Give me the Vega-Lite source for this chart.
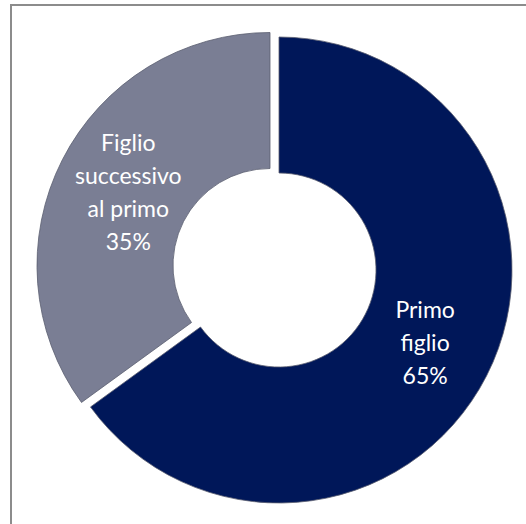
{
  "$schema": "https://vega.github.io/schema/vega-lite/v6.json",
  "width": 536,
  "height": 530,
  "autosize": {"type": "none"},
  "padding": {"left": 11, "top": 5, "right": 0, "bottom": 0},
  "background": "white",
  "config": {"view": {"stroke": null}},
  "data": {
    "values": [
      {"categoria": "Primo figlio", "quota": 65, "ordine": 1, "etichetta": "Primo\nfiglio\n65%"},
      {"categoria": "Figlio successivo al primo", "quota": 35, "ordine": 2, "etichetta": "Figlio\nsuccessivo\nal primo\n35%"}
    ]
  },
  "layer": [
    {
      "data": {"values": [{"cornice": 1}]},
      "mark": {"type": "rect", "fill": "transparent", "stroke": "#8c8c8c", "strokeWidth": 2},
      "encoding": {}
    },
    {
      "mark": {"type": "arc", "radius": 233, "radius2": 97, "stroke": "#5a5e70", "strokeWidth": 0.8},
      "encoding": {
        "theta": {"field": "quota", "type": "quantitative", "stack": true},
        "order": {"field": "ordine", "type": "quantitative"},
        "color": {"field": "categoria", "type": "nominal", "scale": {"domain": ["Primo figlio", "Figlio successivo al primo"], "range": ["#001759", "#7a7e94"]}, "legend": null},
        "opacity": {"condition": {"test": "datum.ordine == 1", "value": 1}, "value": 0}
      }
    },
    {
      "mark": {"type": "arc", "radius": 233, "radius2": 97, "stroke": "#5a5e70", "strokeWidth": 0.8, "xOffset": -9, "yOffset": -4.5},
      "encoding": {
        "theta": {"field": "quota", "type": "quantitative", "stack": true},
        "order": {"field": "ordine", "type": "quantitative"},
        "color": {"field": "categoria", "type": "nominal", "scale": {"domain": ["Primo figlio", "Figlio successivo al primo"], "range": ["#001759", "#7a7e94"]}, "legend": null},
        "opacity": {"condition": {"test": "datum.ordine == 2", "value": 1}, "value": 0}
      }
    },
    {
      "mark": {"type": "text", "radius": 164, "fill": "white", "font": "Lato", "fontSize": 23, "lineBreak": "\n", "lineHeight": 33, "align": "center", "baseline": "middle", "yOffset": -33},
      "encoding": {
        "theta": {"field": "quota", "type": "quantitative", "stack": true},
        "order": {"field": "ordine", "type": "quantitative"},
        "text": {"field": "etichetta", "type": "nominal"},
        "opacity": {"condition": {"test": "datum.ordine == 1", "value": 1}, "value": 0}
      }
    },
    {
      "mark": {"type": "text", "radius": 159, "fill": "white", "font": "Lato", "fontSize": 23, "lineBreak": "\n", "lineHeight": 33, "align": "center", "baseline": "middle", "xOffset": -9, "yOffset": -54},
      "encoding": {
        "theta": {"field": "quota", "type": "quantitative", "stack": true},
        "order": {"field": "ordine", "type": "quantitative"},
        "text": {"field": "etichetta", "type": "nominal"},
        "opacity": {"condition": {"test": "datum.ordine == 2", "value": 1}, "value": 0}
      }
    }
  ]
}
